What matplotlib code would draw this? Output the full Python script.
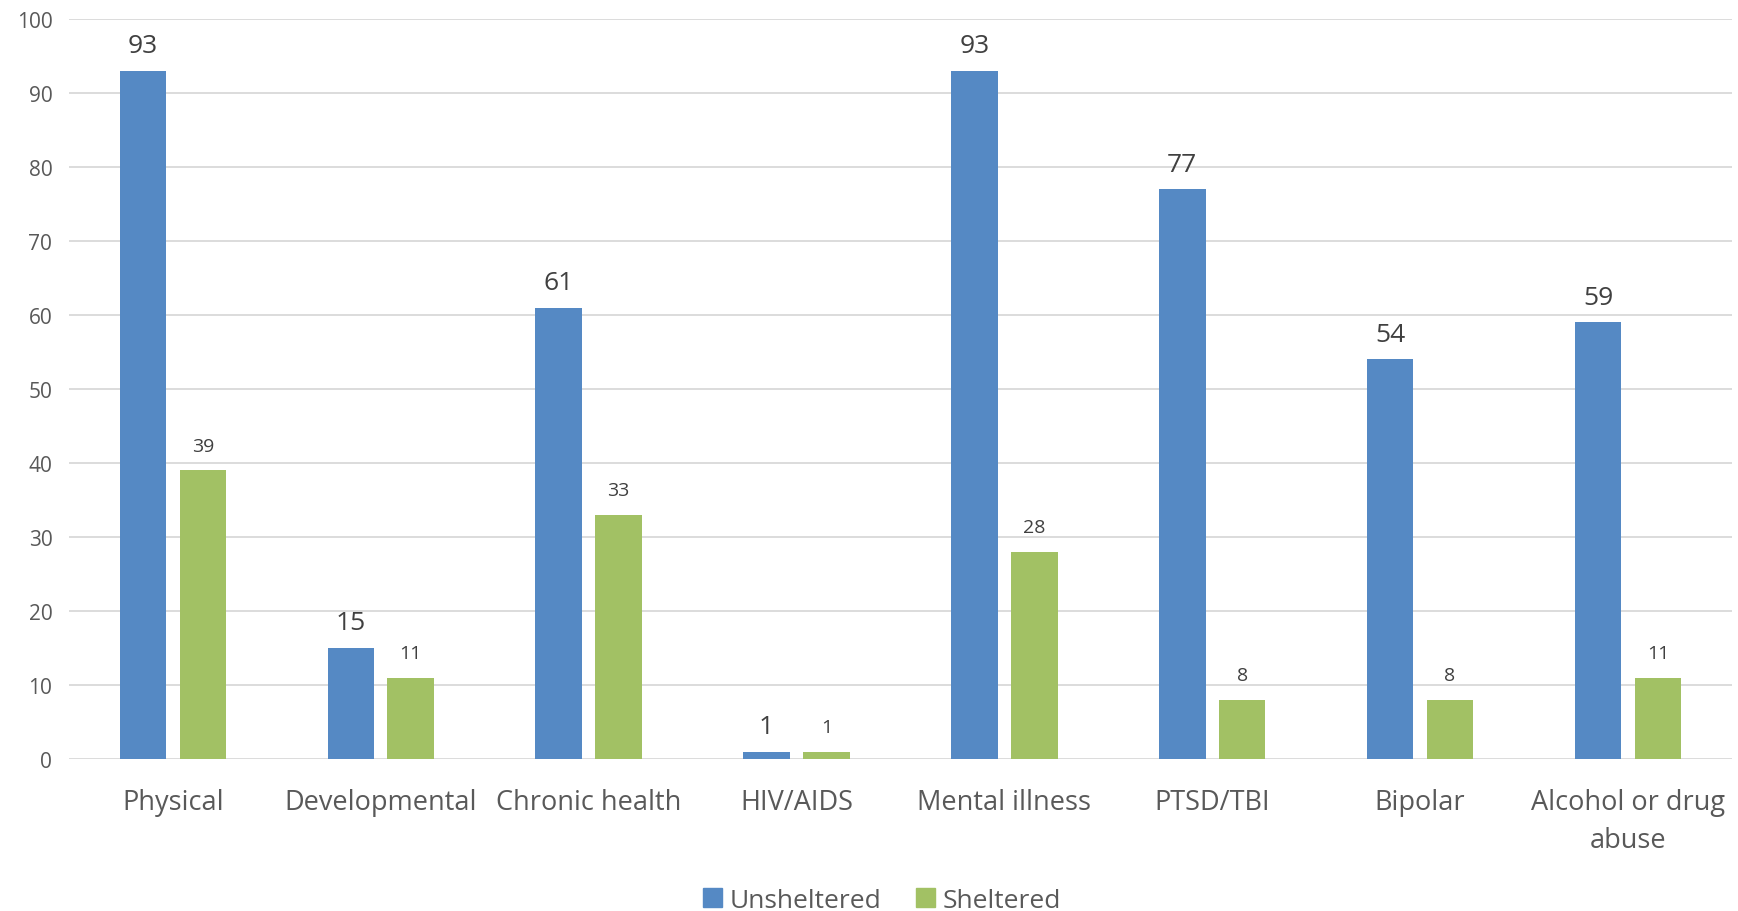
import matplotlib
matplotlib.use("Agg")
import matplotlib.pyplot as plt
import matplotlib.transforms as mtransforms
import numpy as np
from matplotlib.patches import Patch

categories = ["Physical", "Developmental", "Chronic health", "HIV/AIDS",
              "Mental illness", "PTSD/TBI", "Bipolar", "Alcohol or drug\nabuse"]
unsheltered = [93, 15, 61, 1, 93, 77, 54, 59]
sheltered = [39, 11, 33, 1, 28, 8, 8, 11]
series_names = ["Unsheltered", "Sheltered"]
yticks = [0, 10, 20, 30, 40, 50, 60, 70, 80, 90, 100]

blue = "#5589C4"
green = "#A2C164"
txt = "#595959"

plt.rcParams['font.family'] = ['Open Sans', 'DejaVu Sans']

fig = plt.figure(figsize=(17.38, 9.12), dpi=100)
ax = fig.add_axes([0.0397, 0.1667, 0.9568, 0.8114])

x = np.arange(len(categories))
w = 0.224
off = 0.144
ax.bar(x - off, unsheltered, w, color=blue, zorder=3)
ax.bar(x + off, sheltered, w, color=green, zorder=3)

for xi, v in zip(x - off, unsheltered):
    ax.annotate(str(v), (xi, v), xytext=(0, 18), textcoords="offset points",
                ha="center", va="center", fontsize=19, color="#404040")
for xi, v in zip(x + off, sheltered):
    ax.annotate(str(v), (xi, v), xytext=(0, 17.5), textcoords="offset points",
                ha="center", va="center", fontsize=14, color="#404040")

ax.set_xlim(-0.5, len(categories) - 0.5)
ax.set_ylim(0, 100)
ax.set_yticks(yticks)
ax.set_yticklabels([str(t) for t in yticks], fontsize=15, color=txt)
ax.set_xticks(x)
ax.set_xticklabels(categories, fontsize=19.5, color=txt, linespacing=1.45)
shift = mtransforms.ScaledTranslation(-3.0 / 100, 0, fig.dpi_scale_trans)
for lab in ax.get_xticklabels():
    lab.set_transform(lab.get_transform() + shift)
ax.tick_params(axis="both", length=0)
ax.tick_params(axis="x", pad=21)
ax.tick_params(axis="y", pad=12)
ax.grid(axis="y", color="#D9D9D9", linewidth=1.3, zorder=0)
for s in ax.spines.values():
    s.set_visible(False)

handles = [Patch(color=blue, label=series_names[0]), Patch(color=green, label=series_names[1])]
leg = fig.legend(handles=handles, loc="center", bbox_to_anchor=(0.5075, 0.0118), ncol=2,
                 frameon=False, fontsize=19, handlelength=0.72, handleheight=0.72,
                 handletextpad=0.3, columnspacing=1.3, borderpad=0, borderaxespad=0)
for t in leg.get_texts():
    t.set_color(txt)

fig.savefig("out.png", dpi=100, facecolor="white")
